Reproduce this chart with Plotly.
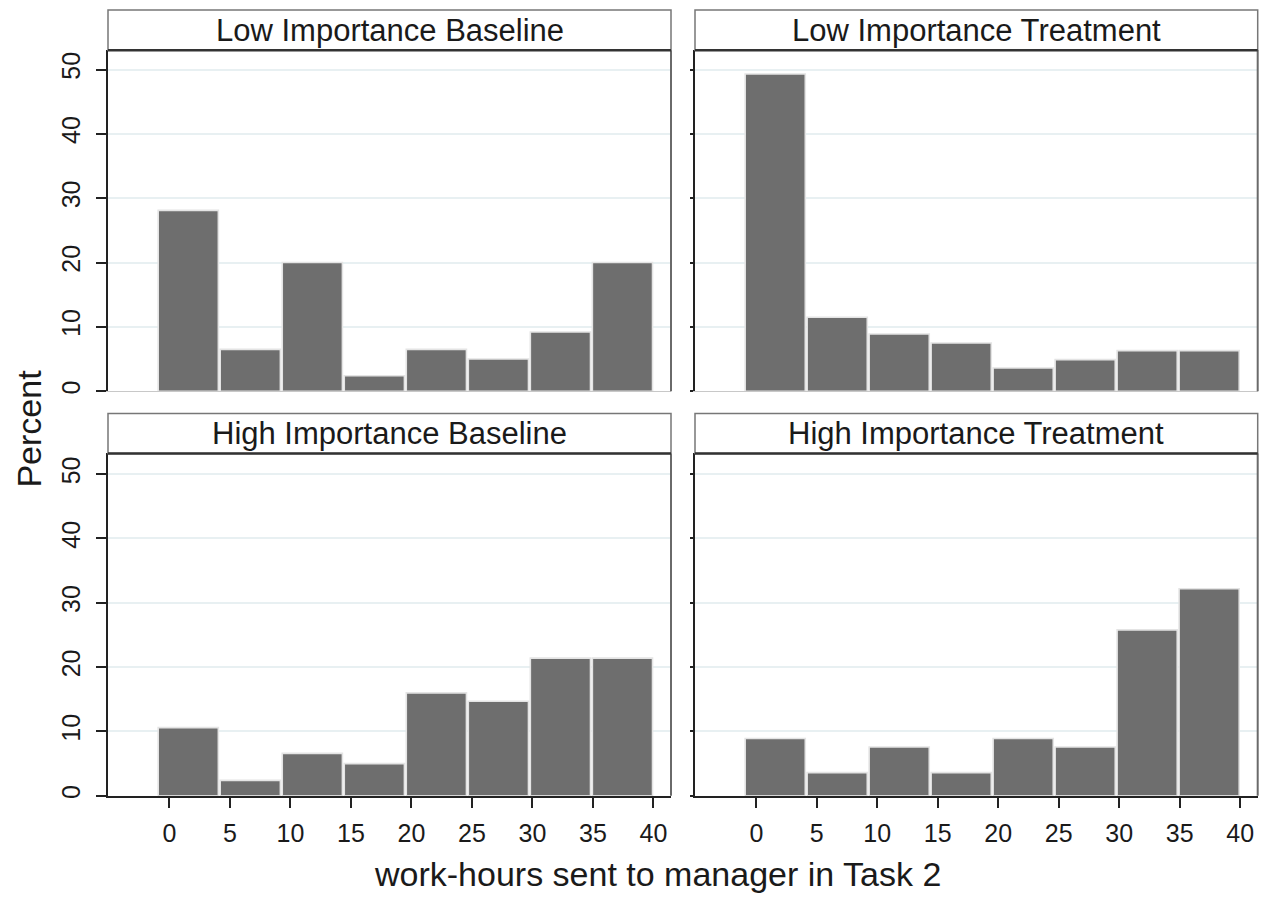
import plotly.graph_objects as go

# ---- data ----
panel_titles = ["Low Importance Baseline", "Low Importance Treatment",
                "High Importance Baseline", "High Importance Treatment"]
bin_edges = [-1, 4.125, 9.25, 14.375, 19.5, 24.625, 29.75, 34.875, 40]
low_baseline = [28.1, 6.5, 20.0, 2.4, 6.5, 5.0, 9.2, 20.0]
low_treatment = [49.3, 11.5, 8.9, 7.5, 3.6, 4.9, 6.3, 6.3]
high_baseline = [10.6, 2.4, 6.6, 5.0, 16.0, 14.7, 21.4, 21.4]
high_treatment = [8.9, 3.6, 7.6, 3.6, 8.9, 7.6, 25.8, 32.2]
x_ticks = [0, 5, 10, 15, 20, 25, 30, 35, 40]
y_ticks = [0, 10, 20, 30, 40, 50]
x_title = "work-hours sent to manager in Task 2"
y_title = "Percent"

series = [low_baseline, low_treatment, high_baseline, high_treatment]

W, H = 1270, 898
FONT = "Liberation Sans, Arial, sans-serif"
TXT = "#1a1a1a"

def px_x(p):
    return p / W

def px_y(p):
    return 1 - p / H

# panel pixel boxes
cols = [(108, 671), (695, 1257.7)]
rows = [(10, 50.5, 392.5), (415, 455, 798.5)]

centers = [(bin_edges[i] + bin_edges[i + 1]) / 2 for i in range(len(bin_edges) - 1)]
widths = [(bin_edges[i + 1] - bin_edges[i]) * 0.97 for i in range(len(bin_edges) - 1)]

fig = go.Figure()
layout = dict(
    width=W, height=H,
    margin=dict(l=0, r=0, t=0, b=0),
    paper_bgcolor="white", plot_bgcolor="white",
    showlegend=False,
    font=dict(family=FONT, color=TXT),
    shapes=[], annotations=[],
)

for k in range(4):
    r, c = divmod(k, 2)
    left, right = cols[c]
    s_top, s_bot, p_bot = rows[r]
    idx = "" if k == 0 else str(k + 1)
    xa, ya = "x" + idx, "y" + idx
    fig.add_trace(go.Bar(
        x=centers, y=series[k], width=widths,
        marker=dict(color="#6e6e6e", line=dict(color="#e4e4e4", width=1.6)),
        xaxis=xa, yaxis=ya, hoverinfo="skip",
    ))
    bottom_row = (r == 1)
    left_col = (c == 0)
    layout["xaxis" + idx] = dict(
        domain=[px_x(left), px_x(right)],
        anchor=ya,
        range=[-5.07, 41.45],
        tickvals=x_ticks,
        showticklabels=bottom_row,
        ticks="outside" if bottom_row else "",
        ticklen=10, tickwidth=1.5, tickcolor="#222",
        ticklabelstandoff=4,
        tickfont=dict(size=25, color=TXT, family=FONT),
        showgrid=False, zeroline=False,
        showline=True,
        linecolor="#222" if bottom_row else "#c8c8c8",
        linewidth=2 if bottom_row else 1,
    )
    layout["yaxis" + idx] = dict(
        domain=[px_y(p_bot), px_y(s_bot)],
        anchor=xa,
        range=[0, (p_bot - s_bot) / 6.455],
        tickvals=y_ticks,
        showticklabels=left_col,
        tickangle=-90,
        ticks="outside",
        ticklen=10 if left_col else 3,
        tickwidth=1.5, tickcolor="#222",
        ticklabelstandoff=6,
        tickfont=dict(size=25, color=TXT, family=FONT),
        showgrid=True, gridcolor="#e8f0f2", gridwidth=1.5,
        zeroline=False,
        showline=True, linecolor="#222", linewidth=2,
    )
    layout["shapes"].append(dict(
        type="line", xref="paper", yref="paper",
        x0=px_x(right), x1=px_x(right), y0=px_y(p_bot), y1=px_y(s_bot),
        line=dict(color="#6a6a6a", width=2), layer="above"))
    layout["shapes"].append(dict(
        type="rect", xref="paper", yref="paper",
        x0=px_x(left), x1=px_x(right), y0=px_y(s_bot), y1=px_y(s_top),
        fillcolor="white", line=dict(color="#777", width=1.5)))
    layout["shapes"].append(dict(
        type="line", xref="paper", yref="paper",
        x0=px_x(left), x1=px_x(right), y0=px_y(s_bot), y1=px_y(s_bot),
        line=dict(color="#333", width=2.5)))
    layout["annotations"].append(dict(
        text=panel_titles[k], xref="paper", yref="paper",
        x=px_x((left + right) / 2), y=px_y((s_top + s_bot) / 2),
        xanchor="center", yanchor="middle", showarrow=False,
        font=dict(size=31, color=TXT, family=FONT)))

layout["annotations"].append(dict(
    text=x_title, xref="paper", yref="paper",
    x=px_x(657), y=px_y(877), xanchor="center", yanchor="middle",
    showarrow=False, font=dict(size=34, color=TXT, family=FONT)))
layout["annotations"].append(dict(
    text=y_title, xref="paper", yref="paper",
    x=px_x(29), y=px_y(430), xanchor="center", yanchor="middle",
    textangle=-90, showarrow=False, font=dict(size=34, color=TXT, family=FONT)))

fig.update_layout(**layout)
fig.write_html("out.html",
               config={"displayModeBar": False},
               post_script="document.body.style.margin='0';document.body.style.overflow='hidden';")
